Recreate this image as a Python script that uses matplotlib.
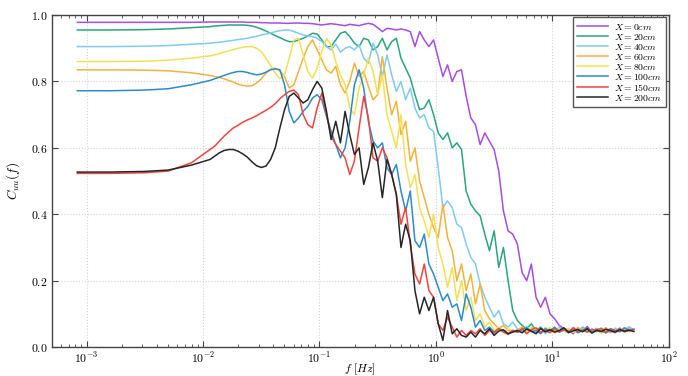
import numpy as np
import matplotlib
matplotlib.use("Agg")
import matplotlib.pyplot as plt
from matplotlib.ticker import FuncFormatter, MultipleLocator

# LaTeX-ish look with the bundled Computer Modern fonts
plt.rcParams['font.family'] = 'serif'
plt.rcParams['font.serif'] = ['cmr10', 'DejaVu Serif']
plt.rcParams['mathtext.fontset'] = 'cm'
plt.rcParams['axes.formatter.use_mathtext'] = True

# frequency grid (log10 of f in Hz)
log_f = np.r_[[-3.08, -2.8, -2.5, -2.3, -2.1], np.arange(-1.94, 1.71, 0.04)]
freq = 10 ** log_f

labels = ['$X = 0cm$', '$X = 20cm$', '$X = 40cm$', '$X = 60cm$',
          '$X = 80cm$', '$X = 100cm$', '$X = 150cm$', '$X = 200cm$']
colors = ['#A64CE8', '#2BA57C', '#7FCBF2', '#F2B33D',
          '#F5DF55', '#2D8BC9', '#F0453F', '#262626']

coh_0 = [0.978, 0.978, 0.978, 0.978, 0.978,
         0.979, 0.979, 0.979, 0.979, 0.979, 0.979,
         0.979, 0.979, 0.978, 0.978, 0.978, 0.977, 0.977, 0.976, 0.976, 0.976,
         0.975, 0.975, 0.976, 0.976, 0.975, 0.975, 0.974, 0.972, 0.970, 0.972,
         0.974, 0.972, 0.970, 0.968, 0.972, 0.970, 0.968, 0.972, 0.975, 0.972,
         0.962, 0.950, 0.960, 0.958, 0.955, 0.958, 0.955, 0.950, 0.905, 0.950,
         0.925, 0.905, 0.925, 0.870, 0.815, 0.850, 0.800, 0.830, 0.835, 0.755,
         0.690, 0.670, 0.610, 0.645, 0.620, 0.595, 0.530, 0.410, 0.350, 0.340,
         0.310, 0.225, 0.200, 0.250, 0.150, 0.120, 0.150, 0.100, 0.085, 0.065,
         0.055, 0.050, 0.040, 0.058, 0.047, 0.062, 0.044, 0.053, 0.046, 0.057,
         0.049, 0.043, 0.055, 0.047, 0.060, 0.051]

coh_20 = [0.955, 0.955, 0.956, 0.958, 0.962,
          0.965, 0.967, 0.968, 0.969, 0.970, 0.970,
          0.970, 0.970, 0.969, 0.967, 0.963, 0.958, 0.952, 0.945, 0.938, 0.932,
          0.925, 0.920, 0.920, 0.925, 0.930, 0.937, 0.945, 0.943, 0.925, 0.905,
          0.905, 0.925, 0.945, 0.950, 0.935, 0.915, 0.905, 0.930, 0.925, 0.895,
          0.905, 0.930, 0.895, 0.920, 0.930, 0.870, 0.840, 0.810, 0.760, 0.715,
          0.720, 0.745, 0.700, 0.645, 0.625, 0.645, 0.600, 0.615, 0.595, 0.470,
          0.430, 0.410, 0.395, 0.340, 0.290, 0.350, 0.240, 0.300, 0.200, 0.110,
          0.080, 0.065, 0.055, 0.070, 0.050, 0.060, 0.045, 0.055, 0.050, 0.045,
          0.055, 0.046, 0.052, 0.044, 0.060, 0.049, 0.045, 0.056, 0.050, 0.043,
          0.055, 0.048, 0.057, 0.046, 0.052, 0.049]

coh_40 = [0.905, 0.905, 0.906, 0.908, 0.912,
          0.915, 0.917, 0.918, 0.920, 0.922, 0.924,
          0.926, 0.928, 0.930, 0.933, 0.936, 0.940, 0.943, 0.946, 0.950, 0.953,
          0.955, 0.955, 0.950, 0.945, 0.940, 0.937, 0.935, 0.930, 0.920, 0.905,
          0.895, 0.912, 0.888, 0.900, 0.905, 0.895, 0.910, 0.870, 0.855, 0.915,
          0.880, 0.815, 0.880, 0.820, 0.770, 0.800, 0.745, 0.780, 0.720, 0.690,
          0.700, 0.660, 0.650, 0.540, 0.420, 0.440, 0.420, 0.370, 0.360, 0.310,
          0.270, 0.250, 0.190, 0.150, 0.120, 0.090, 0.110, 0.070, 0.060, 0.075,
          0.055, 0.046, 0.062, 0.049, 0.043, 0.056, 0.040, 0.053, 0.046, 0.060,
          0.049, 0.042, 0.054, 0.048, 0.058, 0.045, 0.052, 0.046, 0.055, 0.050,
          0.043, 0.057, 0.047, 0.052, 0.061, 0.049]

coh_60 = [0.835, 0.835, 0.834, 0.832, 0.826,
          0.818, 0.815, 0.812, 0.808, 0.803, 0.798,
          0.792, 0.788, 0.786, 0.787, 0.795, 0.808, 0.825, 0.837, 0.840, 0.832,
          0.815, 0.780, 0.790, 0.830, 0.870, 0.905, 0.925, 0.895, 0.865, 0.835,
          0.825, 0.845, 0.790, 0.765, 0.800, 0.855, 0.815, 0.830, 0.785, 0.745,
          0.760, 0.875, 0.780, 0.700, 0.740, 0.640, 0.680, 0.560, 0.600, 0.500,
          0.450, 0.400, 0.360, 0.330, 0.430, 0.330, 0.290, 0.200, 0.250, 0.170,
          0.220, 0.130, 0.190, 0.110, 0.085, 0.070, 0.055, 0.065, 0.050, 0.045,
          0.052, 0.060, 0.045, 0.055, 0.048, 0.040, 0.058, 0.047, 0.053, 0.044,
          0.056, 0.050, 0.045, 0.059, 0.047, 0.052, 0.043, 0.055, 0.049, 0.058,
          0.046, 0.050, 0.054, 0.045, 0.053, 0.048]

coh_80 = [0.860, 0.860, 0.861, 0.864, 0.870,
          0.877, 0.880, 0.884, 0.888, 0.892, 0.896,
          0.900, 0.903, 0.905, 0.905, 0.900, 0.890, 0.870, 0.848, 0.825, 0.808,
          0.820, 0.870, 0.925, 0.930, 0.880, 0.830, 0.810, 0.840, 0.890, 0.930,
          0.910, 0.860, 0.820, 0.790, 0.720, 0.700, 0.780, 0.820, 0.870, 0.830,
          0.760, 0.820, 0.700, 0.650, 0.600, 0.700, 0.550, 0.480, 0.520, 0.420,
          0.380, 0.330, 0.400, 0.300, 0.250, 0.180, 0.240, 0.140, 0.200, 0.110,
          0.150, 0.080, 0.100, 0.060, 0.075, 0.050, 0.060, 0.045, 0.055, 0.050,
          0.048, 0.056, 0.044, 0.060, 0.050, 0.045, 0.053, 0.058, 0.042, 0.051,
          0.047, 0.057, 0.044, 0.052, 0.049, 0.055, 0.046, 0.053, 0.041, 0.056,
          0.049, 0.045, 0.052, 0.058, 0.046, 0.051]

coh_100 = [0.772, 0.772, 0.774, 0.778, 0.790,
           0.803, 0.808, 0.813, 0.818, 0.823, 0.827,
           0.830, 0.830, 0.827, 0.823, 0.820, 0.822, 0.828, 0.835, 0.838, 0.835,
           0.790, 0.710, 0.675, 0.690, 0.710, 0.725, 0.750, 0.760, 0.745, 0.695,
           0.650, 0.610, 0.570, 0.600, 0.680, 0.790, 0.835, 0.780, 0.680, 0.620,
           0.600, 0.615, 0.540, 0.520, 0.550, 0.470, 0.410, 0.470, 0.320, 0.300,
           0.340, 0.250, 0.220, 0.180, 0.140, 0.160, 0.120, 0.130, 0.080, 0.160,
           0.120, 0.060, 0.080, 0.050, 0.060, 0.045, 0.055, 0.050, 0.040, 0.050,
           0.044, 0.053, 0.058, 0.046, 0.050, 0.041, 0.055, 0.049, 0.060, 0.045,
           0.052, 0.047, 0.056, 0.043, 0.050, 0.057, 0.046, 0.053, 0.048, 0.044,
           0.055, 0.050, 0.046, 0.058, 0.049, 0.053]

coh_150 = [0.523, 0.523, 0.525, 0.530, 0.555,
           0.595, 0.605, 0.620, 0.635, 0.648, 0.660,
           0.668, 0.677, 0.684, 0.690, 0.697, 0.705, 0.713, 0.722, 0.733, 0.748,
           0.760, 0.770, 0.774, 0.760, 0.700, 0.670, 0.660, 0.720, 0.765, 0.700,
           0.635, 0.610, 0.590, 0.570, 0.520, 0.560, 0.660, 0.755, 0.690, 0.570,
           0.560, 0.600, 0.570, 0.520, 0.460, 0.370, 0.420, 0.310, 0.220, 0.190,
           0.250, 0.170, 0.150, 0.070, 0.050, 0.090, 0.060, 0.030, 0.050, 0.035,
           0.050, 0.040, 0.055, 0.035, 0.050, 0.042, 0.056, 0.045, 0.038, 0.050,
           0.046, 0.055, 0.040, 0.052, 0.058, 0.045, 0.050, 0.043, 0.056, 0.048,
           0.053, 0.044, 0.059, 0.047, 0.051, 0.045, 0.054, 0.049, 0.057, 0.043,
           0.052, 0.048, 0.055, 0.046, 0.050, 0.054]

coh_200 = [0.527, 0.527, 0.529, 0.533, 0.548,
           0.565, 0.575, 0.585, 0.592, 0.595, 0.595,
           0.590, 0.582, 0.572, 0.558, 0.546, 0.541, 0.545, 0.565, 0.600, 0.660,
           0.715, 0.755, 0.765, 0.750, 0.735, 0.745, 0.775, 0.800, 0.780, 0.710,
           0.625, 0.680, 0.615, 0.710, 0.640, 0.580, 0.600, 0.490, 0.540, 0.615,
           0.560, 0.450, 0.565, 0.520, 0.460, 0.300, 0.370, 0.320, 0.170, 0.100,
           0.150, 0.110, 0.150, 0.070, 0.020, 0.110, 0.040, 0.055, 0.035, 0.030,
           0.045, 0.030, 0.050, 0.040, 0.055, 0.035, 0.048, 0.052, 0.040, 0.045,
           0.050, 0.043, 0.054, 0.048, 0.040, 0.056, 0.046, 0.052, 0.045, 0.050,
           0.058, 0.044, 0.049, 0.053, 0.046, 0.055, 0.042, 0.050, 0.047, 0.054,
           0.049, 0.045, 0.052, 0.048, 0.051, 0.047]

series = [coh_0, coh_20, coh_40, coh_60, coh_80, coh_100, coh_150, coh_200]

fig = plt.figure(figsize=(6.88, 3.76), dpi=100)
ax = fig.add_axes([0.075, 0.077, 0.897, 0.883])

for vals, lab, col in zip(series, labels, colors):
    ax.plot(freq, vals, color=col, lw=1.1, label=lab)

ax.set_xscale('log')
ax.set_xlim(5e-4, 100)
ax.set_ylim(0, 1)
ax.yaxis.set_major_locator(MultipleLocator(0.2))
ax.yaxis.set_major_formatter(FuncFormatter(lambda v, p: '$%.1f$' % v))

ax.grid(True, which='major', ls=':', color='#d4d4d4', lw=0.8)
ax.tick_params(which='both', direction='in', top=True, right=True,
               labelsize=8.5, color='#444444', pad=3)
ax.tick_params(which='major', length=4)
ax.tick_params(which='minor', length=2)
for s in ax.spines.values():
    s.set_color('#444444')
    s.set_linewidth(1.0)

ax.set_xlabel('$f\\ [Hz]$', fontsize=8.5)
ax.xaxis.set_label_coords(0.5, -0.045)
ax.set_ylabel('$C_{uu}(f)$', fontsize=9.5, labelpad=6)

leg = ax.legend(loc='upper right', fontsize=7, fancybox=False, framealpha=1,
                edgecolor='#555555', borderaxespad=0.25, handlelength=3.2,
                labelspacing=0.0, borderpad=0.45, handletextpad=0.6)
leg.get_frame().set_linewidth(1.0)

fig.savefig('out.png', dpi=100)
